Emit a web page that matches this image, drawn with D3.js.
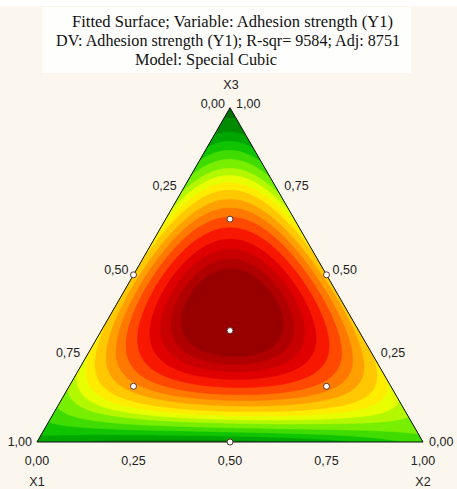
<!DOCTYPE html>
<html><head><meta charset="utf-8">
<script src="https://cdn.jsdelivr.net/npm/d3@7"></script>
<style>html,body{margin:0;padding:0;background:#fbf7ef;}svg{display:block}</style>
</head><body><svg id="c" width="457" height="489"></svg>
<script>
const titleLines = ["Fitted Surface; Variable: Adhesion strength (Y1)",
  "DV: Adhesion strength (Y1); R-sqr= 9584; Adj: 8751",
  "Model: Special Cubic"];
const components = ["X1", "X2", "X3"];
const tickValues = [0, 0.25, 0.5, 0.75, 1];
const tickLabels = ["0,00", "0,25", "0,50", "0,75", "1,00"];
// Special cubic model coefficients (scaled units)
const linearCoef = [3.5, 5.5, 0.5];      // b1, b2, b3
const binaryCoef = [-8, 30, 27];         // b12, b13, b23
const ternaryCoef = [240];               // b123
// design points [x1, x2, x3]
const designPoints = [
  [0.5, 0, 0.5], [0, 0.5, 0.5], [0.5, 0.5, 0],
  [1/6, 1/6, 2/3], [2/3, 1/6, 1/6], [1/6, 2/3, 1/6], [1/3, 1/3, 1/3]
];
const levels = [-50, 1.5, 3.0, 4.0, 5.0, 6.0, 7.0, 7.8, 8.6, 9.4, 10.4, 11.3, 12.2, 13.2, 14.2, 15.0, 15.7, 16.3];
const levelColors = ["#006e00", "#008a00", "#00a600", "#10c400", "#40dc00", "#78ee00",
  "#b4f800", "#e8ff00", "#ffec00", "#ffc800", "#ffa000", "#ff7800", "#ff4800",
  "#f81800", "#e00000", "#c80000", "#b00000", "#980000"];

const svg = d3.select("#c");
svg.append("rect").attr("width", 457).attr("height", 6).attr("fill", "#ffffff");
svg.append("rect").attr("x", 42).attr("y", 7).attr("width", 369).attr("height", 66).attr("fill", "#fefefd");

const titleX = [72, 56, 135];
const titleY = [27, 45.5, 64.5];
const titleW = [321, 344, 142];
titleLines.forEach((t, i) => {
  svg.append("text").attr("x", titleX[i]).attr("y", titleY[i])
    .attr("font-family", "Liberation Serif")
    .attr("font-size", 16).attr("fill", "#111")
    .attr("textLength", titleW[i]).attr("lengthAdjust", "spacingAndGlyphs").text(t);
});

// scales: u = horizontal position (x2 + x3/2), v = x3
const xScale = d3.scaleLinear().domain([0, 1]).range([37, 423]);
const yScale = d3.scaleLinear().domain([0, 1]).range([442, 107.7]);
const P = b => [xScale(b[1] + b[2] / 2), yScale(b[2])];

function model(x1, x2, x3) {
  return linearCoef[0] * x1 + linearCoef[1] * x2 + linearCoef[2] * x3 +
    binaryCoef[0] * x1 * x2 + binaryCoef[1] * x1 * x3 + binaryCoef[2] * x2 * x3 +
    ternaryCoef[0] * x1 * x2 * x3;
}

const nx = 390, ny = 340;
const vals = new Float64Array(nx * ny);
for (let j = 0; j < ny; j++) {
  const v = 1 - j / (ny - 1);
  for (let i = 0; i < nx; i++) {
    const u = i / (nx - 1);
    const x3 = v, x2 = u - v / 2, x1 = 1 - x2 - x3;
    vals[j * nx + i] = model(x1, x2, x3);
  }
}
const contours = d3.contours().size([nx, ny]).thresholds(levels)(vals);
const proj = d3.geoTransform({
  point: function (x, y) {
    this.stream.point(xScale((x - 0.5) / (nx - 1)), yScale(1 - (y - 0.5) / (ny - 1)));
  }
});
const path = d3.geoPath(proj);

const tri = [[1, 0, 0], [0, 1, 0], [0, 0, 1]].map(P);
svg.append("clipPath").attr("id", "tri").append("polygon")
  .attr("points", tri.map(p => p.join(",")).join(" "));

svg.append("g").attr("clip-path", "url(#tri)")
  .selectAll("path").data(contours).join("path")
  .attr("d", path)
  .attr("fill", (d, i) => levelColors[i])
  .attr("stroke", (d, i) => levelColors[i]).attr("stroke-width", 0.5);

svg.append("polygon").attr("points", tri.map(p => p.join(",")).join(" "))
  .attr("fill", "none").attr("stroke", "#111").attr("stroke-width", 1);

// design points
svg.append("g").selectAll("circle").data(designPoints).join("circle")
  .attr("cx", d => P(d)[0]).attr("cy", d => P(d)[1]).attr("r", 3)
  .attr("fill", "#fff").attr("stroke", "#553333").attr("stroke-width", 1);

const lab = svg.append("g").attr("font-family", "Liberation Sans").attr("font-size", 12.5).attr("fill", "#222");
// bottom axis: X2 values
tickValues.forEach((t, i) => {
  const p = P([1 - t, t, 0]);
  lab.append("text").attr("x", p[0]).attr("y", p[1] + 23).attr("text-anchor", "middle").text(tickLabels[i]);
});
// left edge: X1 values (top 0 -> bottom 1)
tickValues.forEach((t, i) => {
  const p = P([t, 0, 1 - t]);
  lab.append("text").attr("x", p[0] - 5).attr("y", p[1] + (t === 1 ? 4 : t === 0 ? 0 : -1)).attr("text-anchor", "end").text(tickLabels[i]);
});
// right edge: X3 values (top 1 -> bottom 0)
tickValues.forEach((t, i) => {
  const p = P([0, 1 - t, t]);
  lab.append("text").attr("x", p[0] + 6).attr("y", p[1] + (t === 0 ? 4 : t === 1 ? 0 : -1)).attr("text-anchor", "start").text(tickLabels[i]);
});
// component labels
const pTop = P([0, 0, 1]), pL = P([1, 0, 0]), pR = P([0, 1, 0]);
lab.append("text").attr("x", pTop[0] + 1).attr("y", pTop[1] - 19).attr("text-anchor", "middle").text(components[2]);
lab.append("text").attr("x", pL[0]).attr("y", pL[1] + 44).attr("text-anchor", "middle").text(components[0]);
lab.append("text").attr("x", pR[0]).attr("y", pR[1] + 44).attr("text-anchor", "middle").text(components[1]);
</script></body></html>
